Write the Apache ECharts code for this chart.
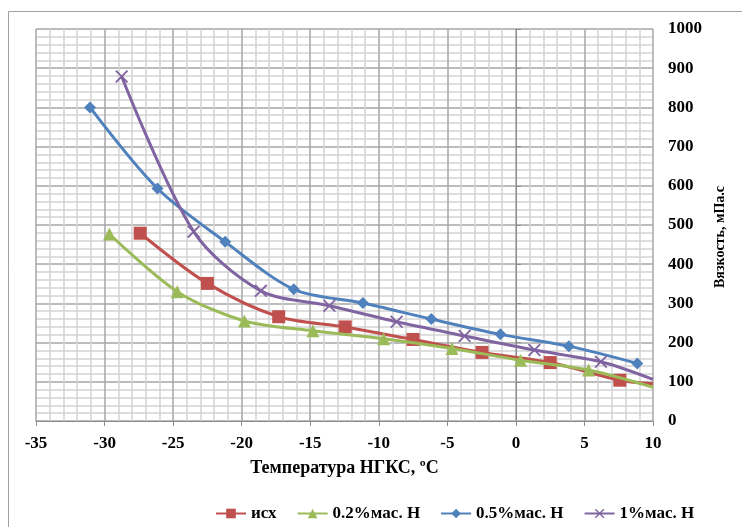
<!DOCTYPE html>
<html>
<head>
<meta charset="utf-8">
<script src="https://cdn.jsdelivr.net/npm/echarts@6/dist/echarts.min.js"></script>
<style>
  html, body { margin: 0; padding: 0; background: #fff; }
  #chartMain { width: 742px; height: 527px; }
</style>
</head>
<body>
<div id="chartMain"></div>
<script type="text/javascript">
// данные: [температура, вязкость]
var seriesNames = ['исх', '0.2%мас. Н', '0.5%мас. Н', '1%мас. Н'];
var dataIsh = [[-27.4, 479], [-22.5, 351], [-17.3, 266], [-12.45, 240], [-7.5, 208], [-2.47, 175], [2.5, 149], [7.58, 104], [10, 95]];
var data02 = [[-29.65, 477], [-24.7, 330], [-19.8, 255], [-14.8, 230], [-9.65, 210], [-4.66, 185], [0.33, 155], [5.3, 130], [10, 86]];
var data05 = [[-31.06, 800], [-26.14, 593], [-21.2, 457], [-16.2, 336], [-11.16, 301], [-6.17, 260], [-1.13, 221], [3.86, 191], [8.85, 147]];
var data1 = [[-28.75, 879], [-23.5, 483], [-18.6, 332], [-13.6, 294], [-8.7, 253], [-3.74, 217], [1.35, 181], [6.2, 151], [10, 106]];

var colors = ['#C0504D', '#9BBB59', '#4F81BD', '#8064A2'];
var symbols = ['rect', 'triangle', 'diamond',
  'path://M0,1 L1,0 L5,4 L9,0 L10,1 L6,5 L10,9 L9,10 L5,6 L1,10 L0,9 L4,5 Z'];
var symbolSizes = [13, 13, 12, 13];

var font = 'Liberation Serif';

// последняя точка на краю оси без маркера
function toData(arr) {
  return arr.map(function (p) {
    if (p[0] === 10) return { value: p, symbol: 'none' };
    return p;
  });
}

var myChart = echarts.init(document.getElementById('chartMain'));

var allData = [dataIsh, data02, data05, data1];
var series = allData.map(function (d, i) {
  return {
    name: seriesNames[i],
    type: 'line',
    smooth: 0.3,
    data: toData(d),
    symbol: symbols[i],
    symbolSize: symbolSizes[i],
    lineStyle: { width: 3, color: colors[i] },
    itemStyle: { color: colors[i] },
    z: 3 + i
  };
});

var option = {
  animation: false,
  textStyle: { fontFamily: font },
  graphic: [{
    type: 'rect',
    shape: { x: 8.5, y: 11.5, width: 740, height: 530 },
    style: { fill: 'none', stroke: '#a0a0a0', lineWidth: 1 },
    silent: true
  }],
  grid: { left: 36, right: 89, top: 29, bottom: 106 },
  legend: {
    left: 210,
    top: 500,
    itemWidth: 30,
    itemHeight: 12,
    itemGap: 20,
    textStyle: { fontFamily: font, fontWeight: 'bold', fontSize: 17, color: '#000' },
    data: seriesNames
  },
  xAxis: {
    type: 'value',
    min: -35,
    max: 10,
    interval: 5,
    name: 'Температура НГКС, ºC',
    nameLocation: 'middle',
    nameGap: 38,
    nameTextStyle: { fontFamily: font, fontWeight: 'bold', fontSize: 18, color: '#000' },
    axisLine: { onZero: false, lineStyle: { color: '#8c8c8c', width: 1 } },
    axisTick: { show: true, length: 5, lineStyle: { color: '#8c8c8c' } },
    axisLabel: { margin: 14, fontFamily: font, fontWeight: 'bold', fontSize: 17, color: '#000' },
    splitLine: { show: true, lineStyle: { color: '#a6a6a6', width: 1.5 } },
    minorTick: { show: false, splitNumber: 5 },
    minorSplitLine: { show: true, lineStyle: { color: '#d4d4d4', width: 1.5 } }
  },
  yAxis: {
    type: 'value',
    position: 'right',
    min: 0,
    max: 1000,
    interval: 100,
    name: 'Вязкость, мПа.с',
    nameLocation: 'middle',
    nameRotate: 90,
    nameGap: 60,
    nameTextStyle: {
      fontFamily: font, fontWeight: 'bold', fontSize: 14, color: '#000',
      padding: [0, 24, 0, 0]
    },
    axisLine: { show: true, lineStyle: { color: '#8c8c8c', width: 1 } },
    axisTick: { show: true, length: 5, lineStyle: { color: '#8c8c8c' } },
    axisLabel: {
      margin: 15, fontFamily: font, fontWeight: 'bold', fontSize: 17, color: '#000',
      formatter: function (v) { return String(v); }
    },
    splitLine: { show: true, lineStyle: { color: '#a6a6a6', width: 1.5 } },
    minorTick: { show: false, splitNumber: 5 },
    minorSplitLine: { show: true, lineStyle: { color: '#d4d4d4', width: 1.5 } }
  },
  series: series
};

myChart.setOption(option);
</script>
</body>
</html>
